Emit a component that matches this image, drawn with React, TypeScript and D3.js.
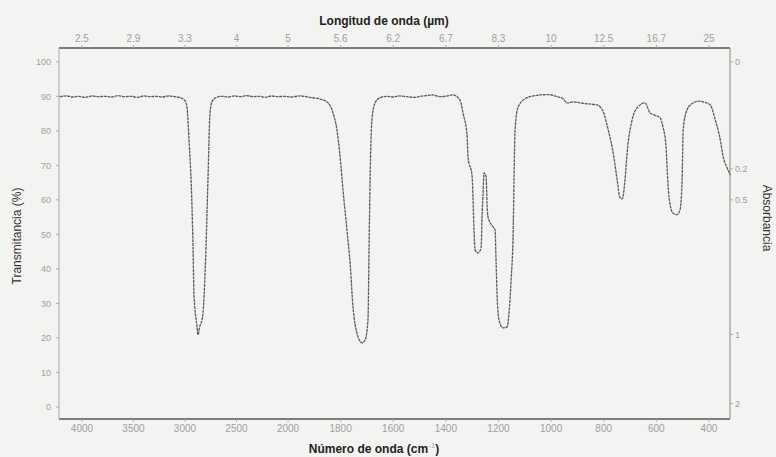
import React from "react";
import * as d3 from "d3";

// Spectrum data: wavenumber (cm^-1) and transmittance (%)
const wavenumbers = [
  4215, 4150, 4090, 4030, 3970, 3900, 3840, 3780, 3710, 3650, 3590, 3520, 3460, 3400,
  3340, 3280, 3220, 3160, 3100, 3050, 3010, 2995, 2981, 2961, 2932, 2922, 2913, 2883,
  2874, 2855, 2835, 2825, 2796, 2777, 2757, 2738, 2699, 2640, 2580, 2520, 2460, 2400,
  2340, 2280, 2220, 2160, 2100, 2040, 1990, 1954, 1916, 1878, 1852, 1829, 1814, 1802,
  1791, 1776, 1764, 1753, 1738, 1719, 1707, 1696, 1692, 1688, 1681, 1669, 1650, 1625,
  1600, 1575, 1550, 1520, 1498, 1475, 1450, 1422, 1395, 1373, 1346, 1335, 1319, 1316,
  1300, 1297, 1293, 1289, 1278, 1266, 1262, 1259, 1255, 1247, 1243, 1240, 1221, 1213,
  1209, 1205, 1198, 1183, 1167, 1160, 1152, 1144, 1141, 1137, 1125, 1092, 1060, 1042,
  1010, 977, 955, 939, 916, 890, 860, 825, 802, 783, 764, 749, 738, 730, 719, 711, 692,
  669, 643, 624, 605, 586, 575, 563, 560, 552, 537, 522, 510, 502, 498, 483, 460, 440,
  422, 395, 376, 357, 346, 331, 319,
];
const transmittance = [
  89.9, 90.1, 89.8, 90.0, 89.7, 90.1, 89.9, 90.0, 89.8, 90.2, 89.9, 90.0, 89.7, 90.1,
  89.9, 90.0, 89.8, 90.1, 89.9, 89.6, 89.0, 88.4, 87.0, 77.4, 58.0, 46.4, 33.0, 23.2,
  20.9, 23.5, 25.2, 27.2, 46.4, 65.8, 85.2, 88.4, 89.6, 90.0, 89.8, 90.1, 89.9, 90.2,
  89.9, 90.0, 89.7, 90.1, 89.9, 90.0, 89.8, 90.1, 89.7, 89.2, 88.4, 85.2, 80.3, 72.5,
  62.9, 51.3, 41.7, 29.0, 21.4, 18.6, 19.4, 25.2, 45.5, 65.8, 83.2, 88.1, 89.6, 90.0,
  89.8, 90.1, 89.9, 89.7, 90.0, 90.2, 90.4, 89.9, 90.1, 90.4, 88.9, 85.2, 78.3, 72.5,
  66.7, 60.9, 51.3, 45.5, 44.6, 46.1, 56.2, 60.9, 67.8, 66.7, 58.0, 55.1, 52.2, 51.3,
  41.7, 31.9, 25.2, 22.9, 23.2, 27.2, 36.8, 51.3, 65.8, 80.3, 87.0, 89.6, 90.2, 90.4,
  90.5, 89.9, 89.3, 88.1, 88.4, 88.1, 87.8, 87.5, 85.5, 80.3, 73.6, 65.8, 60.6, 60.3,
  65.8, 73.6, 83.2, 87.0, 88.1, 85.2, 84.5, 83.8, 81.2, 75.4, 70.7, 60.9, 56.2, 55.7,
  57.1, 65.8, 80.3, 86.1, 88.1, 88.6, 88.4, 87.5, 83.2, 77.4, 72.5, 69.3, 67.2,
];

// Axis ticks
const wnTicks = [4000, 3500, 3000, 2500, 2000, 1800, 1600, 1400, 1200, 1000, 800, 600, 400];
const umLabels = ["2.5", "2.9", "3.3", "4", "5", "5.6", "6.2", "6.7", "8.3", "10", "12.5", "16.7", "25"];
const tTicks = [0, 10, 20, 30, 40, 50, 60, 70, 80, 90, 100];
const absLabels = ["0", "0.2", "0.5", "1", "2"];
const absAtT = [100, 69, 60, 21, 1];

const W = 776;
const H = 457;
const L = 59, R = 730, T = 48, B = 419;

export default function App() {
  const x = d3.scaleLinear().domain([4223, 2000, 320]).range([L, 288, R]);
  const y = d3.scaleLinear().domain([-3.5, 104]).range([B, T]);
  const pts: [number, number][] = wavenumbers.map((w, i) => [w, transmittance[i]]);
  const line = d3
    .line<[number, number]>()
    .x((d) => x(d[0]))
    .y((d) => y(d[1]))
    .curve(d3.curveMonotoneX);

  const tickColor = "#a0a0a0";
  const tickFont = "'Liberation Sans', Arial, sans-serif";

  return (
    <svg
      width={W}
      height={H}
      style={{ position: "absolute", left: 0, top: 0, display: "block" }}
    >
      <rect x={0} y={0} width={W} height={H} fill="#f3f3f1" />
      {/* frame */}
      <line x1={L} y1={T} x2={R} y2={T} stroke="#555" strokeWidth={1.3} />
      <line x1={L} y1={B} x2={R} y2={B} stroke="#555" strokeWidth={1.3} />
      <line x1={L} y1={T} x2={L} y2={B} stroke="#aaa" strokeWidth={1} />
      <line x1={R} y1={T} x2={R} y2={B} stroke="#888" strokeWidth={1} />

      {/* bottom ticks */}
      {wnTicks.map((w, i) => (
        <g key={"b" + i}>
          <line x1={x(w)} x2={x(w)} y1={B} y2={B + 3} stroke="#aaa" />
          <text
            x={x(w)}
            y={432}
            textAnchor="middle"
            fontSize={10}
            fill={tickColor}
            fontFamily={tickFont}
          >
            {w}
          </text>
        </g>
      ))}
      {/* top ticks */}
      {wnTicks.map((w, i) => (
        <g key={"t" + i}>
          <line x1={x(w)} x2={x(w)} y1={T} y2={T - 3} stroke="#aaa" />
          <text
            x={x(w)}
            y={42}
            textAnchor="middle"
            fontSize={10}
            fill={tickColor}
            fontFamily={tickFont}
          >
            {umLabels[i]}
          </text>
        </g>
      ))}
      {/* left ticks */}
      {tTicks.map((t, i) => (
        <g key={"l" + i}>
          <line x1={L - 3} x2={L} y1={y(t)} y2={y(t)} stroke="#aaa" />
          <text
            x={51}
            y={y(t) + 3.5}
            textAnchor="end"
            fontSize={9}
            fill={tickColor}
            fontFamily={tickFont}
          >
            {t}
          </text>
        </g>
      ))}
      {/* right ticks */}
      {absLabels.map((a, i) => (
        <g key={"r" + i}>
          <line x1={R} x2={R + 3} y1={y(absAtT[i])} y2={y(absAtT[i])} stroke="#aaa" />
          <text
            x={735}
            y={y(absAtT[i]) + 3.5}
            textAnchor="start"
            fontSize={9}
            fill={tickColor}
            fontFamily={tickFont}
          >
            {a}
          </text>
        </g>
      ))}

      {/* spectrum */}
      <path
        d={line(pts) || ""}
        fill="none"
        stroke="#5c5c5c"
        strokeWidth={1.3}
        strokeDasharray="3 0.7"
      />

      {/* titles */}
      <text
        x={384}
        y={25}
        textAnchor="middle"
        fontSize={12}
        fontWeight="bold"
        fill="#222"
        fontFamily={tickFont}
      >
        Longitud de onda (µm)
      </text>
      <text
        x={374}
        y={453}
        textAnchor="middle"
        fontSize={12}
        fontWeight="bold"
        fill="#222"
        fontFamily={tickFont}
      >
        Número de onda (cm
        <tspan dy={-5} fontSize={8} fill="#bbb">
          -1
        </tspan>
        <tspan dy={5}>)</tspan>
      </text>
      <text
        transform="translate(21,236) rotate(-90)"
        textAnchor="middle"
        fontSize={12}
        fill="#333"
        fontFamily={tickFont}
      >
        Transmitancia (%)
      </text>
      <text
        transform="translate(763,218) rotate(90)"
        textAnchor="middle"
        fontSize={12}
        fill="#333"
        fontFamily={tickFont}
      >
        Absorbancia
      </text>
    </svg>
  );
}
